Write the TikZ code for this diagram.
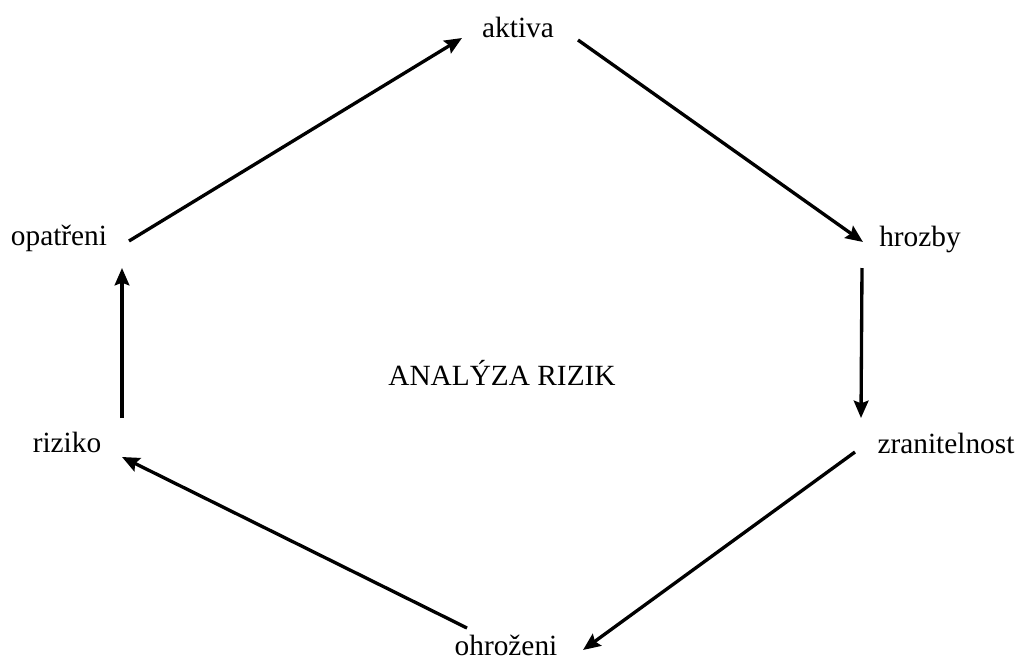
\documentclass[tikz,border=0pt]{standalone}
\usepackage{fontspec}
\setmainfont{Liberation Serif}
\usetikzlibrary{arrows.meta}
\begin{document}
\begin{tikzpicture}[x=0.75pt,y=-0.75pt,
  lbl/.style={inner sep=0pt,anchor=base,font=\fontsize{22}{26}\selectfont},
  flow/.style={line width=2.5pt,-{Stealth[length=13pt,width=11pt,inset=2pt]}}]
\useasboundingbox (0,0) rectangle (1025,661);
% cycle labels, placed by their baselines
\node[lbl] (akt)  at (518,37)  {aktiva};
\node[lbl] (hro)  at (920,246) {hrozby};
\node[lbl] (zra)  at (946,453) {zranitelnost};
\node[lbl] (ohr)  at (506,655) {ohroženi};
\node[lbl] (riz)  at (67,452)  {riziko};
\node[lbl] (opat) at (59,245)  {opatřeni};
\node[lbl] (title) at (502,385) {ANALÝZA RIZIK};
% arrows around the cycle
\draw[flow] ([shift={(70,-4)}]opat.base) -- ([shift={(-56,1)}]akt.base);
\draw[flow] ([shift={(60,3)}]akt.base) -- ([shift={(-57,-4)}]hro.base);
\draw[flow] ([shift={(-58,22)}]hro.base) -- ([shift={(-85,-35)}]zra.base);
\draw[flow] ([shift={(-91,-1)}]zra.base) -- ([shift={(77,-5)}]ohr.base);
\draw[flow] ([shift={(-39,-27)}]ohr.base) -- ([shift={(55,5)}]riz.base);
\draw[flow] ([shift={(55,-34)}]riz.base) -- ([shift={(63,23)}]opat.base);
\end{tikzpicture}
\end{document}
